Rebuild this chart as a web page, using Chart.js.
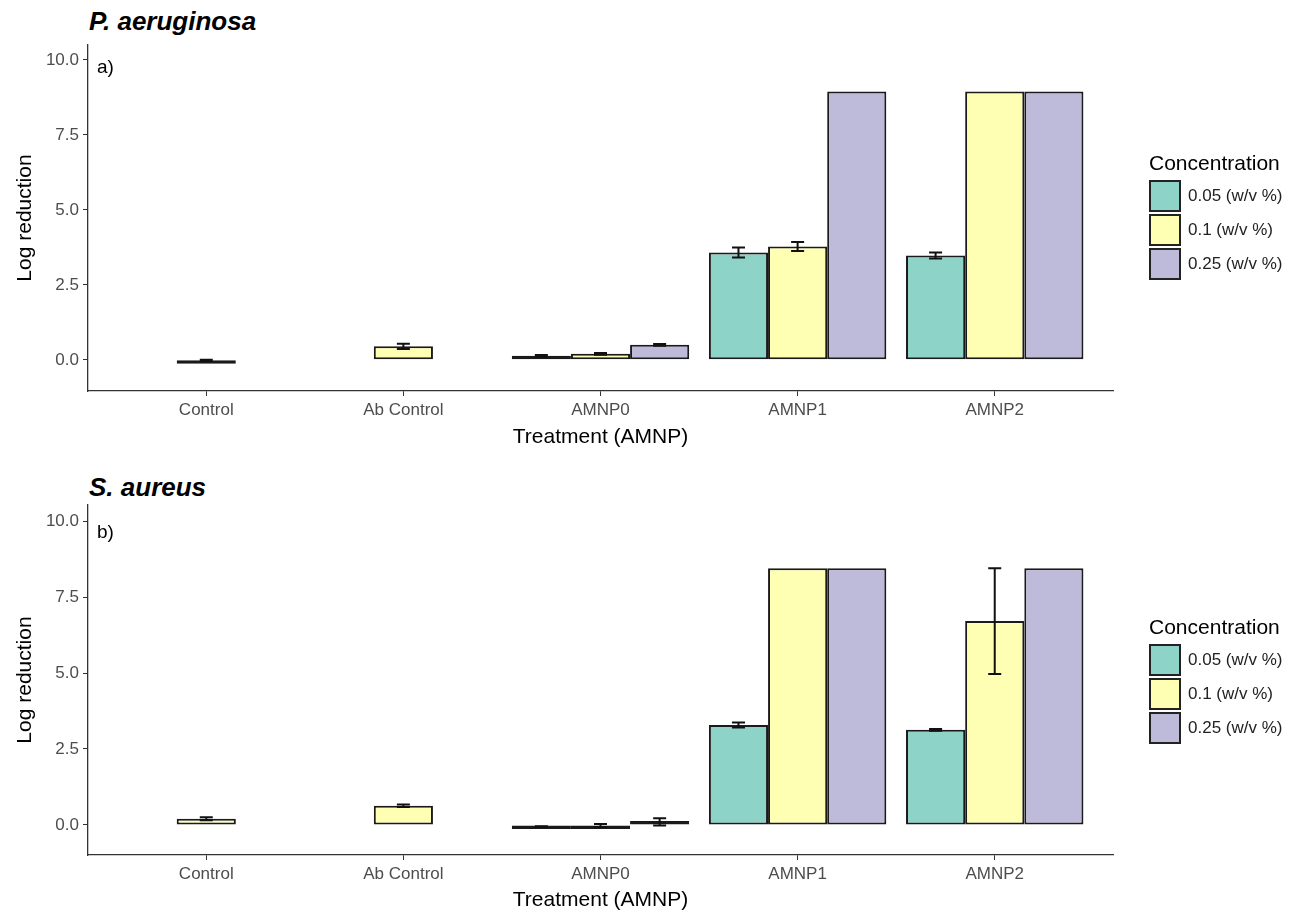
<!DOCTYPE html>
<html>
<head>
<meta charset="utf-8">
<script src="https://cdn.jsdelivr.net/npm/chart.js@4"></script>
<style>
  body { margin: 0; background: #fff; font-family: "Liberation Sans", Arial, sans-serif; }
  #page { position: relative; width: 1303px; height: 913px; overflow: hidden; }
  .panel { position: absolute; left: 0; }
  .title { position: absolute; left: 89px; font-size: 26px; font-weight: bold; font-style: italic; line-height: 1; }
  .tag { position: absolute; left: 97px; font-size: 19px; line-height: 1; }
  .legend { position: absolute; left: 1149px; }
  .legend .lt { font-size: 21px; line-height: 26px; margin-bottom: 3px; }
  .legend .row { display: flex; align-items: center; height: 34px; }
  .legend .key { width: 32px; height: 32px; border: 2px solid #222; box-sizing: border-box; margin-right: 7px; }
  .legend .lab { font-size: 17px; color: #222; }
</style>
</head>
<body>
<div id="page">
  <div class="title" style="top: 8px;">P. aeruginosa</div>
  <div class="panel" style="top: 0;"><canvas id="chartA" width="1303" height="460"></canvas></div>
  <div class="tag" style="top: 57px;">a)</div>
  <div class="legend" id="legendA" style="top: 150px;"></div>

  <div class="title" style="top: 474px;">S. aureus</div>
  <div class="panel" style="top: 460px;"><canvas id="chartB" width="1303" height="453"></canvas></div>
  <div class="tag" style="top: 522px;">b)</div>
  <div class="legend" id="legendB" style="top: 614px;"></div>
</div>
<script>
const categories = ['Control', 'Ab Control', 'AMNP0', 'AMNP1', 'AMNP2'];
const concentrations = ['0.05 (w/v %)', '0.1 (w/v %)', '0.25 (w/v %)'];
const colors = ['#8dd3c7', '#ffffb3', '#bebada'];
const yTicks = [0, 2.5, 5, 7.5, 10];

// P. aeruginosa
const paLow = [null, null, 0.13, 3.58, 3.48];
const paMid = [-0.02, 0.45, 0.2, 3.78, 8.95];
const paHigh = [null, null, 0.5, 8.95, 8.95];
const paLowErr = [null, null, 0.03, 0.17, 0.1];
const paMidErr = [0.02, 0.09, 0.03, 0.15, 0];
const paHighErr = [null, null, 0.03, 0, 0];

// S. aureus
const saLow = [null, null, -0.05, 3.29, 3.13];
const saMid = [0.2, 0.63, -0.02, 8.45, 6.71];
const saHigh = [null, null, 0.1, 8.45, 8.45];
const saLowErr = [null, null, 0.01, 0.08, 0.03];
const saMidErr = [0.05, 0.04, 0.05, 0, 1.74];
const saHighErr = [null, null, 0.12, 0, 0];

const FONT = '"Liberation Sans", Arial, sans-serif';

function points(values, errs) {
    return values
        .map((v, i) => ({ x: i, y: v, err: errs[i] }))
        .filter(p => p.y !== null);
}

const errorBars = {
    id: 'errorBars',
    afterDatasetsDraw(chart) {
        const ctx = chart.ctx;
        const yScale = chart.scales.y;
        ctx.save();
        ctx.strokeStyle = '#111';
        ctx.lineWidth = 2;
        chart.data.datasets.forEach((ds, d) => {
            const meta = chart.getDatasetMeta(d);
            meta.data.forEach((bar, k) => {
                const p = ds.data[k];
                if (!p.err) return;
                const top = yScale.getPixelForValue(p.y + p.err);
                const bot = yScale.getPixelForValue(p.y - p.err);
                const half = bar.width * 0.11;
                ctx.beginPath();
                ctx.moveTo(bar.x, top); ctx.lineTo(bar.x, bot);
                ctx.moveTo(bar.x - half, top); ctx.lineTo(bar.x + half, top);
                ctx.moveTo(bar.x - half, bot); ctx.lineTo(bar.x + half, bot);
                ctx.stroke();
            });
        });
        ctx.restore();
    }
};

function makePanel(id, series, errs, yMin, yMax, xAxisHeight, xTitlePad) {
    const ctx = document.getElementById(id).getContext('2d');
    return new Chart(ctx, {
        type: 'bar',
        data: {
            datasets: series.map((s, d) => ({
                label: concentrations[d],
                data: points(s, errs[d]),
                backgroundColor: colors[d],
                borderColor: '#1a1a1a',
                borderWidth: 2,
                borderSkipped: false,
                minBarLength: 4,
                categoryPercentage: 0.9,
                barPercentage: 1.0
            }))
        },
        options: {
            responsive: false,
            animation: false,
            layout: { padding: { top: 45, right: 190, left: 0, bottom: 0 } },
            plugins: { legend: { display: false }, tooltip: { enabled: false } },
            scales: {
                x: {
                    type: 'linear',
                    min: -0.6,
                    max: 4.6,
                    offset: false,
                    afterBuildTicks: s => { s.ticks = categories.map((c, i) => ({ value: i })); },
                    afterFit: s => { s.height = xAxisHeight; },
                    ticks: {
                        callback: v => categories[v],
                        autoSkip: false,
                        maxRotation: 0,
                        color: '#4d4d4d',
                        padding: 4,
                        font: { family: FONT, size: 17 }
                    },
                    grid: { offset: false, drawOnChartArea: false, tickLength: 5, color: '#333' },
                    border: { color: '#333', width: 1.3 },
                    title: {
                        display: true,
                        text: 'Treatment (AMNP)',
                        color: '#000',
                        font: { family: FONT, size: 21 },
                        padding: { top: 0, bottom: xTitlePad }
                    }
                },
                y: {
                    min: yMin,
                    max: yMax,
                    afterBuildTicks: s => { s.ticks = yTicks.map(v => ({ value: v })); },
                    afterFit: s => { s.width = 88; },
                    ticks: {
                        callback: v => v.toFixed(1),
                        color: '#4d4d4d',
                        padding: 4,
                        font: { family: FONT, size: 17 }
                    },
                    grid: { drawOnChartArea: false, tickLength: 5, color: '#333' },
                    border: { color: '#333', width: 1.3 },
                    title: {
                        display: true,
                        text: 'Log reduction',
                        color: '#000',
                        font: { family: FONT, size: 21 },
                        padding: { top: 13, bottom: 0 }
                    }
                }
            }
        },
        plugins: [errorBars]
    });
}

function buildLegend(id) {
    const el = document.getElementById(id);
    el.innerHTML = '<div class="lt">Concentration</div>' + concentrations.map((c, i) =>
        `<div class="row"><div class="key" style="background:${colors[i]}"></div><div class="lab">${c}</div></div>`
    ).join('');
}

makePanel('chartA', [paLow, paMid, paHigh], [paLowErr, paMidErr, paHighErr], -1.04, 10.5, 69, 10);
makePanel('chartB', [saLow, saMid, saHigh], [saLowErr, saMidErr, saHighErr], -0.99, 10.53, 58, 0);
buildLegend('legendA');
buildLegend('legendB');
</script>
</body>
</html>
